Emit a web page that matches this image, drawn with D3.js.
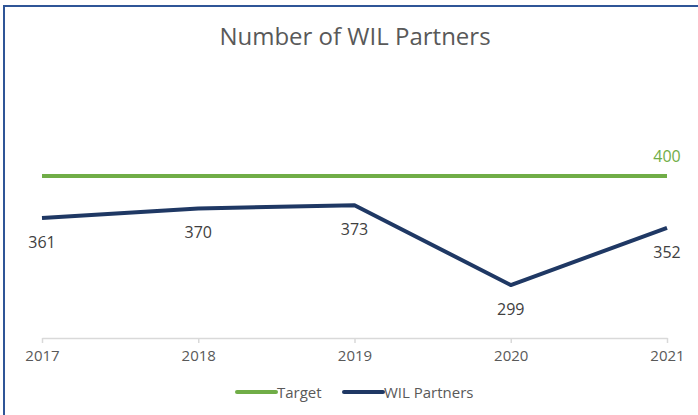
<!DOCTYPE html>
<html>
<head>
<meta charset="utf-8">
<script src="https://cdn.jsdelivr.net/npm/d3@7"></script>
<style>
  body { margin: 0; background: #fff; }
  svg { display: block; font-family: "Open Sans", sans-serif; }
</style>
</head>
<body>
<div id="chart"></div>
<script>
// chart data
var years = ["2017", "2018", "2019", "2020", "2021"];
var partners = [361, 370, 373, 299, 352];
var target = [400, 400, 400, 400, 400];
var seriesNames = ["Target", "WIL Partners"];
var seriesColors = ["#70AD47", "#1F3864"];

var svgWidth = 698, svgHeight = 415;
var margin = { top: 122, right: 31, bottom: 77, left: 42 };
var width = svgWidth - margin.left - margin.right;
var height = svgHeight - margin.top - margin.bottom;

var svg = d3.select("#chart").append("svg")
  .attr("width", svgWidth)
  .attr("height", svgHeight);

// frame (left + top edges visible)
svg.append("path")
  .attr("d", "M4,415 L4,6 L698,6")
  .attr("fill", "none")
  .attr("stroke", "#2F5597")
  .attr("stroke-width", 2);

svg.append("text")
  .attr("x", 355)
  .attr("y", 45)
  .attr("text-anchor", "middle")
  .attr("fill", "#595959")
  .style("font-size", "24px")
  .text("Number of WIL Partners");

var chartGroup = svg.append("g")
  .attr("transform", `translate(${margin.left}, ${margin.top})`);

var x = d3.scalePoint().domain(years).range([0, width]);
var y = d3.scaleLinear().domain([250, 450]).range([height, 0]);

// x axis
var xAxis = chartGroup.append("g")
  .attr("transform", `translate(0, ${height})`)
  .call(d3.axisBottom(x).tickSizeInner(5).tickSizeOuter(0).tickPadding(7))
  .attr("font-family", "'Open Sans', sans-serif");
xAxis.select(".domain").attr("stroke", "#D9D9D9").attr("stroke-width", 1.5);
xAxis.selectAll(".tick line").attr("stroke", "#D9D9D9").attr("stroke-width", 1.5);
xAxis.selectAll(".tick text")
  .attr("fill", "#595959")
  .style("font-size", "15px");

var line = d3.line()
  .x((d, i) => x(years[i]))
  .y(d => y(d));

chartGroup.append("path")
  .datum(target)
  .attr("fill", "none")
  .attr("stroke", seriesColors[0])
  .attr("stroke-width", 4)
  .attr("d", line);

chartGroup.append("path")
  .datum(partners)
  .attr("fill", "none")
  .attr("stroke", seriesColors[1])
  .attr("stroke-width", 4)
  .attr("stroke-linejoin", "round")
  .attr("d", line);

// data labels
chartGroup.selectAll(".plabel")
  .data(partners)
  .enter()
  .append("text")
  .attr("class", "plabel")
  .attr("x", (d, i) => x(years[i]))
  .attr("y", d => y(d) + 30)
  .attr("text-anchor", "middle")
  .attr("fill", "#404040")
  .style("font-size", "16px")
  .text(d => d);

chartGroup.append("text")
  .attr("x", x(years[years.length - 1]))
  .attr("y", y(target[target.length - 1]) - 14)
  .attr("text-anchor", "middle")
  .attr("fill", seriesColors[0])
  .style("font-size", "16px")
  .text(target[target.length - 1]);

// legend
var legendItems = [
  { name: seriesNames[0], color: seriesColors[0], x: 237 },
  { name: seriesNames[1], color: seriesColors[1], x: 344 }
];
var legend = svg.append("g").attr("transform", "translate(0, 392)");
legendItems.forEach(function(item) {
  legend.append("line")
    .attr("x1", item.x).attr("x2", item.x + 39)
    .attr("y1", 0).attr("y2", 0)
    .attr("stroke", item.color)
    .attr("stroke-width", 4)
    .attr("stroke-linecap", "round");
  legend.append("text")
    .attr("x", item.x + 40)
    .attr("y", 5.5)
    .attr("fill", "#595959")
    .style("font-size", "15px")
    .text(item.name);
});
</script>
</body>
</html>
